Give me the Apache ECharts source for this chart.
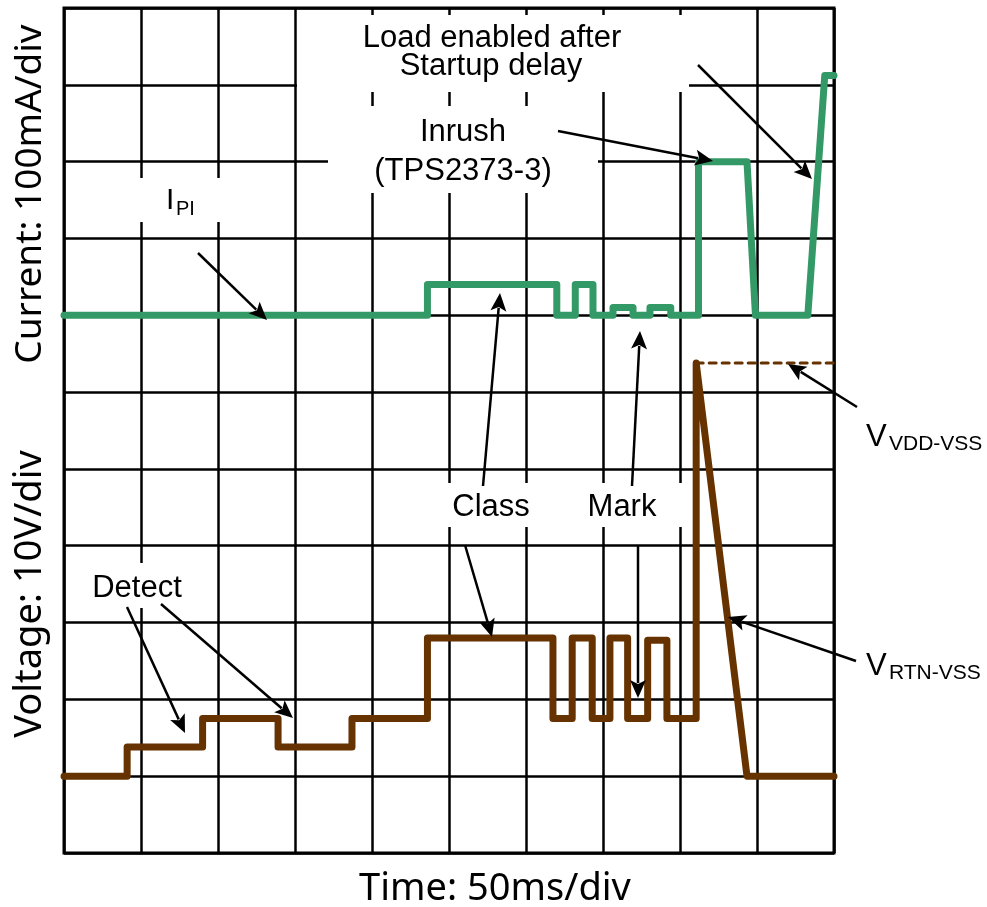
<!DOCTYPE html>
<html><head><meta charset="utf-8">
<script src="https://cdn.jsdelivr.net/npm/echarts@6/dist/echarts.min.js"></script>
<style>html,body{margin:0;padding:0;background:#fff;} #c{width:987px;height:907px;}</style>
</head><body><div id="c"></div>
<script>
// ---- Data (x in ms, 50 ms/div) ----
// Voltage V_RTN-VSS (V, 10 V/div)
const vTime = [0, 41, 41, 90, 90, 139, 139, 187, 187, 236, 236, 317.5, 317.5, 330, 330, 343, 343, 354.5, 354.5, 366, 366, 379, 379, 391.5, 391.5, 410.5, 410.5, 443.5, 500];
const vVolt = [0, 0, 3.8, 3.8, 7.5, 7.5, 3.8, 3.8, 7.5, 7.5, 18, 18, 7.5, 7.5, 18, 18, 7.5, 7.5, 18, 18, 7.5, 7.5, 17.7, 17.7, 7.5, 7.5, 53.8, 0, 0];
// V_VDD-VSS (dotted)
const vddTime = [410.5, 500];
const vddVolt = [53.8, 53.8];
// Current I_PI (mA, 100 mA/div)
const iTime = [0, 236, 236, 320, 320, 332, 332, 343.5, 343.5, 356.5, 356.5, 369.5, 369.5, 380.5, 380.5, 394, 394, 412, 412, 443.5, 449, 483, 494, 500];
const iCur  = [0, 0, 40, 40, 0, 0, 40, 40, 0, 0, 10, 10, 0, 0, 10, 10, 0, 0, 200, 200, 0, 0, 312, 312];
// Labels
const xTitle = 'Time: 50ms/div';
const yTitleCurrent = 'Current: 100mA/div';
const yTitleVoltage = 'Voltage: 10V/div';

const zip = (a, b) => a.map((t, i) => [t, b[i]]);
const GREEN = '#339966', BROWN = '#663300';
const AF = '"Liberation Sans", Arial, sans-serif';
const TF = '"Noto Sans", sans-serif';

function arrow(x1, y1, x2, y2) {
  const dx = x2 - x1, dy = y2 - y1, L = Math.hypot(dx, dy), ux = dx / L, uy = dy / L;
  const hl = 18, hw = 8;
  const bx = x2 - ux * hl, by = y2 - uy * hl;
  return [
    {type: 'line', z: 20, shape: {x1: x1, y1: y1, x2: bx + ux * 3, y2: by + uy * 3}, style: {stroke: '#000', lineWidth: 2.5}},
    {type: 'polygon', z: 20, shape: {points: [[x2, y2], [bx - uy * hw, by + ux * hw], [bx + ux * 4, by + uy * 4], [bx + uy * hw, by - ux * hw]]}, style: {fill: '#000'}}
  ];
}
function box(x, y, w, h) {
  return {type: 'rect', z: 1, shape: {x: x, y: y, width: w, height: h}, style: {fill: '#fff'}};
}
function txt(x, y, s, size, font, align, rot) {
  const o = {type: 'text', z: 20, x: x, y: y, style: {text: s, font: size + 'px ' + font, fill: '#000', align: align || 'center', verticalAlign: 'middle'}};
  if (rot) o.rotation = rot;
  return o;
}

const chart = echarts.init(document.getElementById('c'), null, {renderer: 'canvas'});
const split = {show: true, lineStyle: {color: '#000', width: 2.5}};
chart.setOption({
  animation: false,
  backgroundColor: '#fff',
  grid: {left: 64, top: 8, width: 770, height: 845, show: true, borderColor: '#000', borderWidth: 3, containLabel: false},
  xAxis: {type: 'value', min: 0, max: 500, interval: 50, axisLine: {show: false}, axisTick: {show: false}, axisLabel: {show: false}, splitLine: split},
  yAxis: [
    {type: 'value', min: -700, max: 400, interval: 100, axisLine: {show: false}, axisTick: {show: false}, axisLabel: {show: false}, splitLine: split},
    {type: 'value', min: -10, max: 100, interval: 10, show: false, splitLine: {show: false}}
  ],
  series: [
    {type: 'line', name: 'I_PI', yAxisIndex: 0, data: zip(iTime, iCur), showSymbol: false, symbol: 'none', clip: false, z: 3,
      lineStyle: {color: GREEN, width: 7, cap: 'round', join: 'round'}},
    {type: 'line', name: 'V_RTN-VSS', yAxisIndex: 1, data: zip(vTime, vVolt), showSymbol: false, symbol: 'none', clip: false, z: 3,
      lineStyle: {color: BROWN, width: 7, cap: 'round', join: 'round'}},
    {type: 'line', name: 'V_VDD-VSS', yAxisIndex: 1, data: zip(vddTime, vddVolt), showSymbol: false, symbol: 'none', clip: false, z: 3,
      lineStyle: {color: BROWN, width: 3, type: [7, 6], cap: 'round'}}
  ],
  graphic: [
    box(297, 15, 392, 77),
    box(328, 106, 270, 87),
    box(128, 178, 104, 44),
    box(86, 563, 104, 45),
    box(445, 483, 240, 44),
    txt(492, 38, 'Load enabled after', 31, AF),
    txt(491, 66, 'Startup delay', 31, AF),
    txt(463, 132, 'Inrush', 31, AF),
    txt(463, 171, '(TPS2373-3)', 31, AF),
    txt(166, 201, 'I', 30, AF, 'left'),
    txt(176, 209, 'PI', 20, AF, 'left'),
    txt(137, 588, 'Detect', 31, AF),
    txt(491, 507, 'Class', 31, AF),
    txt(622, 507, 'Mark', 31, AF),
    txt(866, 437, 'V', 31, AF, 'left'),
    txt(889, 444, 'VDD-VSS', 21, AF, 'left'),
    txt(866, 666, 'V', 31, AF, 'left'),
    txt(889, 673, 'RTN-VSS', 21, AF, 'left'),
    txt(495, 889, xTitle, 38, TF),
    txt(30, 194, yTitleCurrent, 37, TF, 'center', Math.PI / 2),
    txt(30, 594, yTitleVoltage, 38, TF, 'center', Math.PI / 2),
    ...arrow(198, 253, 267, 320),
    ...arrow(558, 131, 713, 161),
    ...arrow(698, 65, 812, 179),
    ...arrow(483, 486, 500, 293),
    ...arrow(465, 545, 492, 637),
    ...arrow(632, 486, 640, 331),
    ...arrow(638, 545, 638, 698),
    ...arrow(127, 607, 185, 733),
    ...arrow(161, 604, 293, 718),
    ...arrow(857, 407, 788, 364),
    ...arrow(856, 661, 728, 617)
  ]
});
</script></body></html>
